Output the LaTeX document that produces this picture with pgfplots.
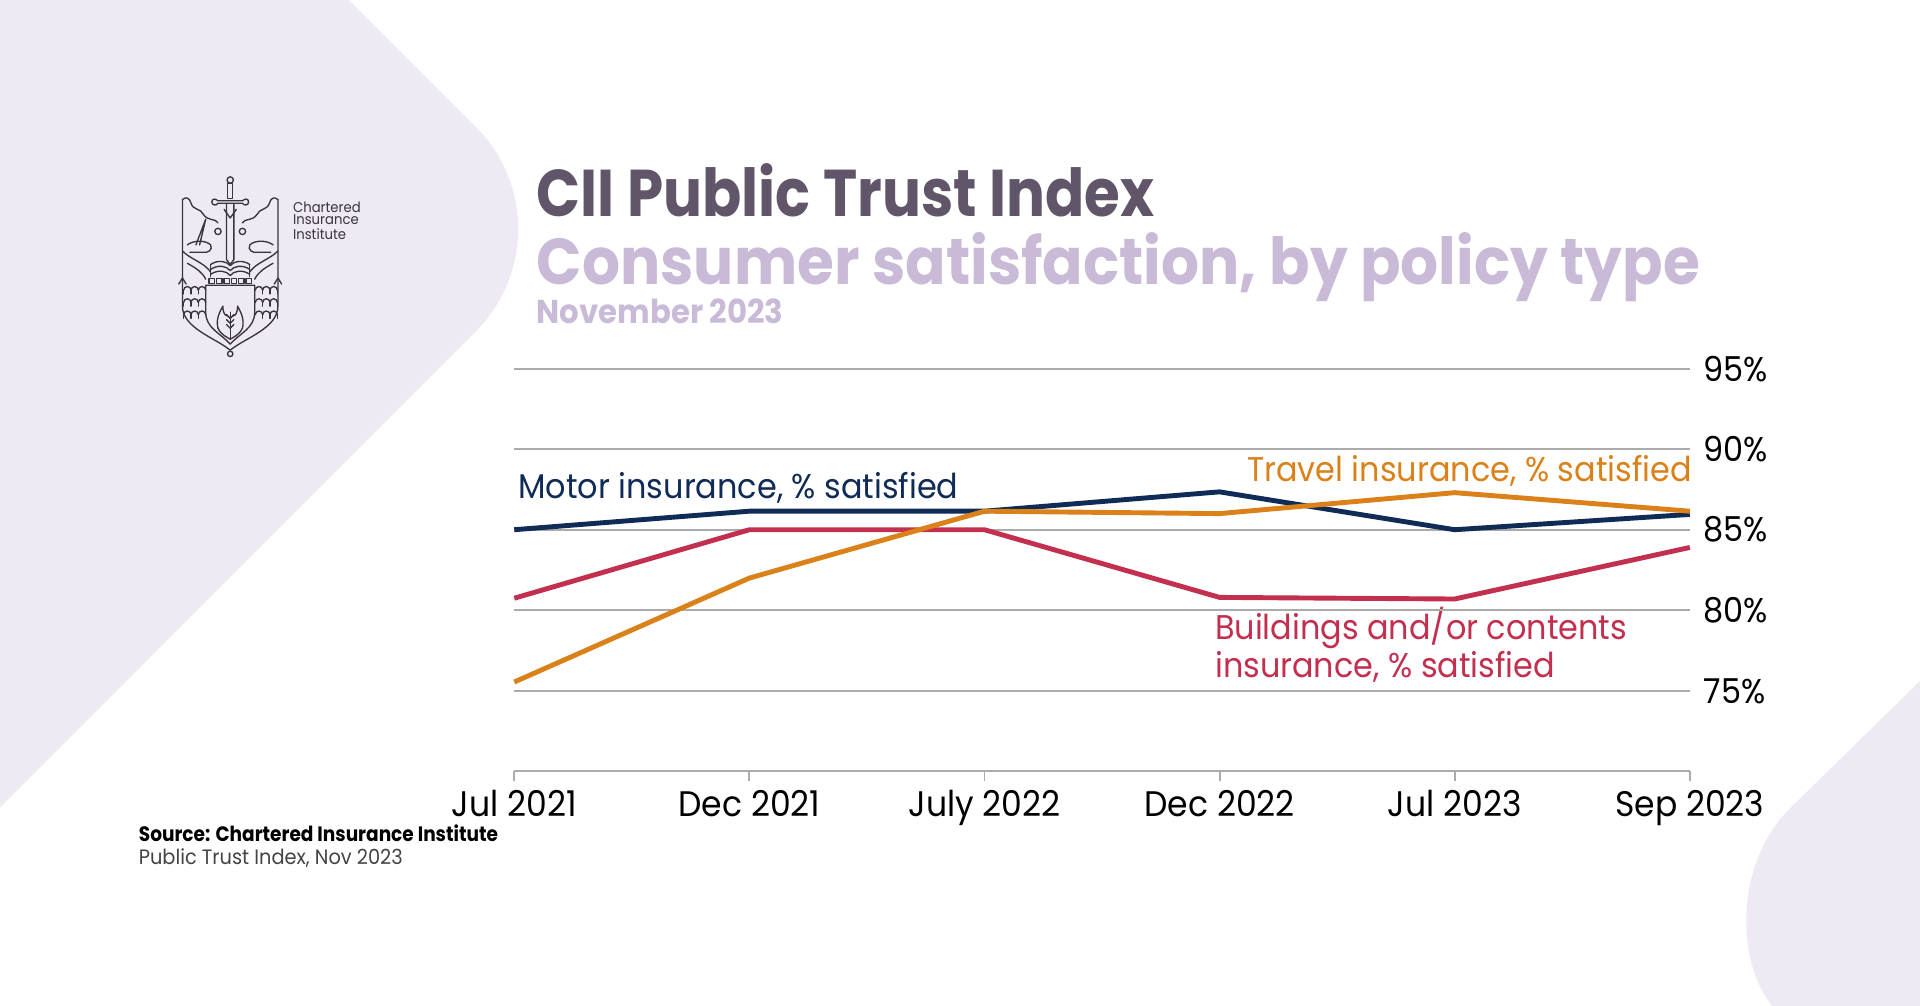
\documentclass[border=0pt]{standalone}
\usepackage{pgfplots}
\pgfplotsset{compat=1.18}
\usepackage{fontspec}
\setmainfont[FakeStretch=0.93]{Poppins}
\newfontfamily\titlefont[FakeStretch=0.875]{Poppins}
\newfontfamily\subfont[FakeStretch=0.92]{Poppins}
\newfontfamily\srcfont[FakeStretch=0.89]{Poppins}
\definecolor{bgl}{HTML}{EEE9F3}
\definecolor{motor}{HTML}{0F2B56}
\definecolor{travel}{HTML}{DB8119}
\definecolor{build}{HTML}{C3304F}
\definecolor{ttl}{HTML}{615669}
\definecolor{sub}{HTML}{C9BAD8}
\definecolor{gridgray}{HTML}{ABABAB}
\definecolor{logo}{HTML}{3A3340}
\definecolor{srcgray}{HTML}{444444}

\pgfplotstableread{
x y
0 85.0
1 86.15
2 86.15
3 87.35
4 85.0
5 85.95
}\motordata
\pgfplotstableread{
x y
0 75.55
1 82.0
2 86.15
3 86.0
4 87.3
5 86.15
}\traveldata
\pgfplotstableread{
x y
0 80.75
1 85.0
2 85.0
3 80.8
4 80.7
5 83.9
}\builddata

\begin{document}
\begin{tikzpicture}[x=0.5pt,y=0.5pt]
\useasboundingbox (0,0) rectangle (1568,821);
\fill[white] (0,0) rectangle (1568,821);
\begin{scope}
\clip (0,0) rectangle (1568,821);
\fill[bgl, rounded corners=59pt] (85,1021) -- (472,634) -- (-300,-139) -- (-300,1021) -- cycle;
\fill[bgl] (1610,306) -- (1462,161) .. controls (1417,117) and (1417,37) .. (1447,0) -- (1452,-20) -- (1610,-20) -- cycle;
\end{scope}

% logo (display coordinates, y downward)
\begin{scope}[shift={(0,821)}, yscale=-1, draw=logo, line width=0.55pt, line join=round, line cap=round]
 \draw (149,163) -- (149,250) .. controls (149,268) and (176,276) .. (188,286) .. controls (200,276) and (227,268) .. (227,250) -- (227,163);
 \draw (188,289) circle (2.2);
 \draw (149,163) .. controls (152,160) and (155,162) .. (156,166) .. controls (158,172) and (164,170) .. (166,175) .. controls (170,181) and (176,178) .. (178,182);
 \draw (227,163) .. controls (224,160) and (221,162) .. (220,166) .. controls (218,172) and (212,170) .. (210,175) .. controls (206,181) and (200,178) .. (198,182);
 \draw (188,147) circle (2.6);
 \draw (186,150) rectangle (190,162);
 \draw (173,165) .. controls (173,162) and (176,162) .. (178,164) -- (198,164) .. controls (200,162) and (203,162) .. (203,165) .. controls (203,168) and (199,168) .. (198,166) -- (178,166) .. controls (177,168) and (173,168) .. (173,165);
 \draw (185,167) -- (185,212) -- (188,216) -- (191,212) -- (191,167);
 \draw (183,171) -- (188,178) -- (193,171);
 \draw (178,189) circle (2.6);
 \draw (198,189) circle (2.6);
 \draw (160,200) -- (168,179) -- (163,200);
 \draw (153,200) .. controls (158,196) and (168,196) .. (172,200) .. controls (174,204) and (170,207) .. (165,206) -- (155,206);
 \draw (223,200) .. controls (218,196) and (208,196) .. (204,200) .. controls (202,204) and (206,207) .. (211,206) -- (221,206);
 \draw (149,205) .. controls (156,212) and (166,214) .. (172,222);
 \draw (227,205) .. controls (220,212) and (210,214) .. (204,222);
 \draw (153,215) .. controls (160,219) and (165,222) .. (168,228);
 \draw (223,215) .. controls (216,219) and (211,222) .. (208,228);
 \draw (172,216) .. controls (178,212) and (185,213) .. (188,217) .. controls (191,213) and (198,212) .. (204,216);
 \draw (172,220) .. controls (178,216) and (185,217) .. (188,221) .. controls (191,217) and (198,216) .. (204,220);
 \draw (172,224) .. controls (178,220) and (185,221) .. (188,225) .. controls (191,221) and (198,220) .. (204,224);
 \draw (172,216) -- (172,226);
 \draw (204,216) -- (204,226);
 \draw (146,232) -- (149,227) -- (152,232);
 \draw (224,232) -- (227,227) -- (230,232);
 \foreach \cx in {173,179,185,191,197,203} { \draw (\cx-2.2,227.5) rectangle (\cx+2.2,231.5); }
 \draw (168,233) -- (168,255) .. controls (168,268) and (180,272) .. (188,281) .. controls (196,272) and (208,268) .. (208,255) -- (208,233) -- cycle;
 \foreach \r in {0,1,2} {
   \foreach \c in {0,1,2} {
     \draw (150+\c*6,237+\r*10) arc[start angle=180,end angle=360,radius=3];
     \draw (208.5+\c*6,237+\r*10) arc[start angle=180,end angle=360,radius=3];
     \draw (150+\c*6,237+\r*10) -- (150+\c*6,240+\r*10);
     \draw (214.5+\c*6,237+\r*10) -- (214.5+\c*6,240+\r*10);
   }
 }
 \draw (188,277) -- (188,255);
 \draw (188,260) -- (185,257) (188,264) -- (185,261) (188,268) -- (185,265);
 \draw (188,260) -- (191,257) (188,264) -- (191,261) (188,268) -- (191,265);
 \draw (178,268) .. controls (176,260) and (180,254) .. (182,250) .. controls (182,256) and (184,258) .. (186,258);
 \draw (198,268) .. controls (200,260) and (196,254) .. (194,250) .. controls (194,256) and (192,258) .. (190,258);
 \draw (178,268) .. controls (181,274) and (185,275) .. (188,277) .. controls (191,275) and (195,274) .. (198,268);
\end{scope}
\node[anchor=base west, inner sep=0pt, text=logo, font=\fontsize{5.8}{5.5}\selectfont] at (239,821-173.4) {Chartered};
\node[anchor=base west, inner sep=0pt, text=logo, font=\fontsize{5.8}{5.5}\selectfont] at (239,821-183.7) {Insurance};
\node[anchor=base west, inner sep=0pt, text=logo, font=\fontsize{5.8}{5.5}\selectfont] at (239,821-195.4) {Institute};

% titles
\node[anchor=base west, inner sep=0pt, text=ttl, font=\titlefont\bfseries\fontsize{27}{27}\selectfont] at (438,821-177) {CII Public Trust Index};
\node[anchor=base west, inner sep=0pt, text=sub, font=\subfont\bfseries\fontsize{26.5}{26.5}\selectfont] at (438,821-232) {Consumer satisfaction, by policy type};
\node[anchor=base west, inner sep=0pt, text=sub, font=\bfseries\fontsize{13.5}{13.5}\selectfont] at (438,821-264) {November 2023};

% source
\node[anchor=base west, inner sep=0pt, text=black, font=\srcfont\bfseries\fontsize{8.5}{8.5}\selectfont] at (113,821-687) {Source: Chartered Insurance Institute};
\node[anchor=base west, inner sep=0pt, text=srcgray, font=\fontsize{8.5}{8.5}\selectfont] at (113,821-706) {Public Trust Index, Nov 2023};

% annotations
\node[anchor=base west, inner sep=0pt, text=motor, font=\fontsize{14}{14}\selectfont] at (423,821-407) {Motor insurance, \% satisfied};
\node[anchor=base east, inner sep=0pt, text=travel, font=\fontsize{14}{14}\selectfont] at (1382,821-393) {Travel insurance, \% satisfied};
\node[anchor=base west, inner sep=0pt, text=build, font=\fontsize{14}{14}\selectfont] at (992,821-522) {Buildings and/or contents};
\node[anchor=base west, inner sep=0pt, text=build, font=\fontsize{14}{14}\selectfont] at (992,821-553) {insurance, \% satisfied};

\begin{axis}[
  at={(210pt,95.5pt)}, anchor=south west,
  scale only axis, width=480pt, height=164.5pt,
  xmin=0, xmax=5, ymin=70, ymax=95,
  separate axis lines,
  axis x line*=bottom, axis y line*=right,
  x axis line style={draw=gridgray, line width=0.8pt, -},
  y axis line style={draw=none},
  ytick={75,80,85,90,95},
  yticklabel={\pgfmathprintnumber{\tick}\%},
  ymajorgrids, grid style={gridgray, line width=0.8pt},
  y tick style={draw=none},
  xtick={0,1,2,3,4,5},
  xticklabels={Jul 2021,Dec 2021,July 2022,Dec 2022,Jul 2023,Sep 2023},
  x tick style={draw=gridgray, line width=0.8pt},
  tick align=outside, major tick length=4pt,
  xticklabel style={font=\fontsize{14.5}{14.5}\selectfont, inner sep=0pt, yshift=-3.5pt, text=black},
  yticklabel style={font=\fontsize{14}{14}\selectfont, anchor=west, inner sep=0pt, xshift=1.5pt, text=black},
  /pgf/number format/assume math mode=true,
  clip=false,
]
\addplot[build, line width=2pt, sharp plot] table[x=x,y=y] {\builddata};
\addplot[motor, line width=2pt, sharp plot] table[x=x,y=y] {\motordata};
\addplot[travel, line width=2pt, sharp plot] table[x=x,y=y] {\traveldata};
\end{axis}
\end{tikzpicture}
\end{document}
